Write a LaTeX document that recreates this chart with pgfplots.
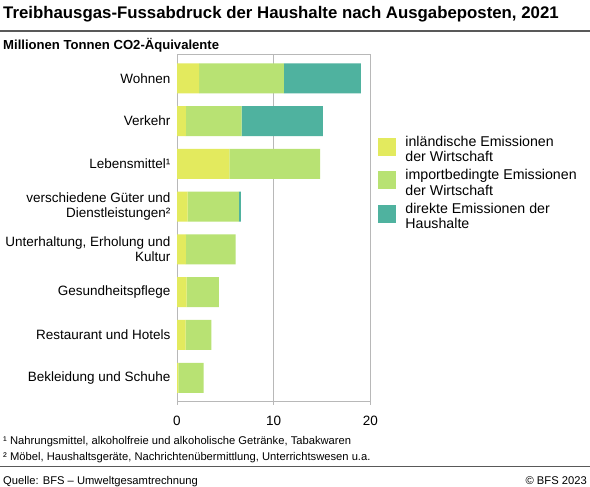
\documentclass[border=0pt]{standalone}
\usepackage{pgfplots}
\usepackage{pgfplotstable}
\pgfplotsset{compat=1.18}
\usepackage{fontspec}
\setmainfont{Liberation Sans}

\definecolor{inl}{HTML}{E3EA5E}
\definecolor{imp}{HTML}{B8E273}
\definecolor{dir}{HTML}{4FB29F}
\definecolor{gridc}{HTML}{B8B8B8}
\definecolor{rule}{HTML}{595959}

\newcommand\lab{\fontsize{13.5bp}{15bp}\selectfont}
\newcommand\leg{\fontsize{14.2bp}{15.7bp}\selectfont}
\newcommand\foot{\fontsize{11.2bp}{13bp}\selectfont}

% Mio. t CO2-Aequivalente: inlaendisch, importbedingt, direkt
\pgfplotstableread{
idx inl  imp  dir
0   2.30 8.77 7.96
1   0.93 5.76 8.41
2   5.41 9.41 0
3   1.10 5.31 0.21
4   0.93 5.14 0
5   1.00 3.34 0
6   0.90 2.65 0
7   0.14 2.62 0
}\data

\begin{document}
\begin{tikzpicture}
\useasboundingbox (0,0) rectangle (590bp,-487bp);
\fill[white] (0,0) rectangle (590bp,-487bp);

\node[anchor=base west, inner sep=0, font=\fontsize{16.8bp}{18bp}\selectfont\bfseries]
  at (3bp,-18bp) {Treibhausgas-Fussabdruck der Haushalte nach Ausgabeposten, 2021};
\draw[rule, line width=2.5bp] (0,-31bp) -- (590bp,-31bp);
\node[anchor=base west, inner sep=0, font=\fontsize{13.1bp}{15bp}\selectfont\bfseries]
  at (3bp,-49bp) {Millionen Tonnen CO2-Äquivalente};

\begin{axis}[
    at={(177bp,-401.7bp)}, anchor=south west,
    scale only axis, width=193.3bp, height=347.4bp,
    xbar stacked, bar width=30bp,
    xmin=0, xmax=20, ymin=-0.56, ymax=7.56, y dir=reverse,
    xtick={0,10,20}, ytick={0,...,7},
    yticklabels={{Wohnen},{Verkehr},{Lebensmittel¹},
      {verschiedene Güter und\\Dienstleistungen²},
      {Unterhaltung, Erholung und\\Kultur},
      {Gesundheitspflege},{Restaurant und Hotels},{Bekleidung und Schuhe}},
    /pgf/number format/assume math mode=true,
    xticklabel style={font=\lab, yshift=-8bp},
    yticklabel style={font=\lab, align=right},
    xtick pos=lower, ytick style={draw=none},
    tick align=outside, major tick length=3bp,
    xtick style={gridc, line width=1bp},
    xmajorgrids, grid style={gridc, line width=1bp},
    axis line style={gridc, line width=1bp},
    legend cell align=left,
    legend style={at={(1.041,0.766)}, anchor=north west, draw=none, fill=none,
      inner sep=0pt, row sep=6bp,
      nodes={align=left, font=\leg, inner sep=0pt},
      /tikz/every odd column/.append style={column sep=9bp}},
    legend image code/.code={\fill[#1] (0bp,-6bp) rectangle (18bp,12bp);},
]
\addplot[fill=inl, draw=none] table[x=inl, y=idx] {\data};
\addlegendentry{inländische Emissionen\\der Wirtschaft}
\addplot[fill=imp, draw=none] table[x=imp, y=idx] {\data};
\addlegendentry{importbedingte Emissionen\\der Wirtschaft}
\addplot[fill=dir, draw=none] table[x=dir, y=idx] {\data};
\addlegendentry{direkte Emissionen der\\Haushalte}
\draw[gridc, line width=2bp] (rel axis cs:0,0) -- (rel axis cs:0,1);
\end{axis}

\node[anchor=base west, inner sep=0, font=\foot] at (3bp,-444bp)
  {¹ Nahrungsmittel, alkoholfreie und alkoholische Getränke, Tabakwaren};
\node[anchor=base west, inner sep=0, font=\foot] at (3bp,-460bp)
  {² Möbel, Haushaltsgeräte, Nachrichtenübermittlung, Unterrichtswesen u.a.};
\draw[rule, line width=1bp] (0,-466.7bp) -- (590bp,-466.7bp);
\node[anchor=base west, inner sep=0, font=\foot] at (3bp,-484bp)
  {Quelle: BFS – Umweltgesamtrechnung};
\node[anchor=base east, inner sep=0, font=\foot] at (587bp,-484bp)
  {© BFS 2023};
\end{tikzpicture}
\end{document}
